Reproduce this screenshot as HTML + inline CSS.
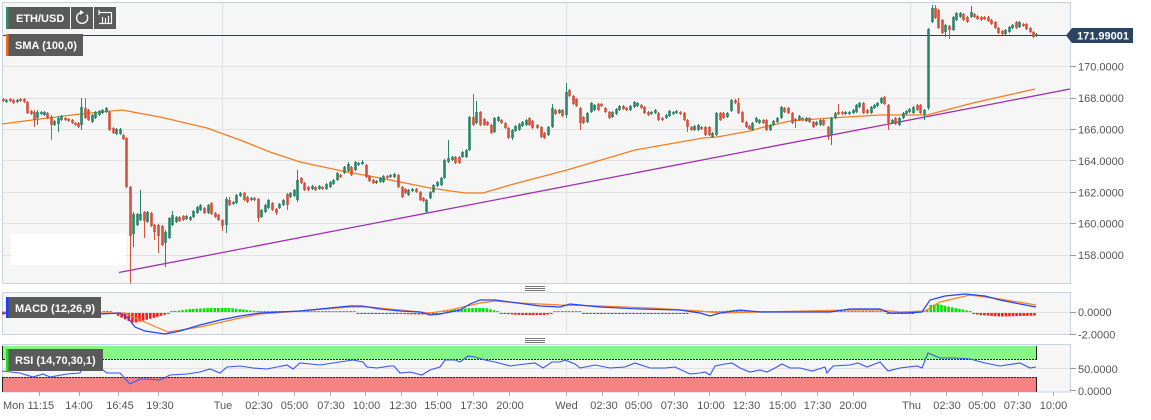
<!DOCTYPE html>
<html><head><meta charset="utf-8">
<style>
html,body{margin:0;padding:0;background:#fff;width:1151px;height:420px;overflow:hidden;}
svg{display:block;font-family:"Liberation Sans",Arial,sans-serif;}
</style></head>
<body>
<svg width="1151" height="420" viewBox="0 0 1151 420" xmlns="http://www.w3.org/2000/svg">
<rect x="0" y="0" width="1151" height="420" fill="#fff"/>
<!-- panels -->
<rect x="2.5" y="2.5" width="1068" height="281" fill="#f6f6f6" stroke="#c9d1e3"/>
<rect x="2.5" y="292.5" width="1068" height="42" fill="#f6f6f6" stroke="#c9d1e3"/>
<rect x="2.5" y="344.5" width="1068" height="47.5" fill="#f6f6f6" stroke="#c9d1e3"/>
<!-- grid main -->
<g stroke="#e2e2e2" stroke-width="1">
<line x1="3" y1="35.5" x2="1070" y2="35.5"/>
<line x1="3" y1="66.5" x2="1070" y2="66.5"/>
<line x1="3" y1="98.5" x2="1070" y2="98.5"/>
<line x1="3" y1="129.5" x2="1070" y2="129.5"/>
<line x1="3" y1="160.5" x2="1070" y2="160.5"/>
<line x1="3" y1="192.5" x2="1070" y2="192.5"/>
<line x1="3" y1="223.5" x2="1070" y2="223.5"/>
<line x1="3" y1="255.5" x2="1070" y2="255.5"/>
<line x1="222.5" y1="3" x2="222.5" y2="283"/>
<line x1="566.5" y1="3" x2="566.5" y2="283"/>
<line x1="910.5" y1="3" x2="910.5" y2="283"/>
<line x1="3" y1="312.5" x2="1070" y2="312.5"/>
<line x1="222.5" y1="293" x2="222.5" y2="334"/>
<line x1="566.5" y1="293" x2="566.5" y2="334"/>
<line x1="910.5" y1="293" x2="910.5" y2="334"/>
<line x1="3" y1="368.5" x2="1070" y2="368.5"/>
<line x1="222.5" y1="345" x2="222.5" y2="392"/>
<line x1="566.5" y1="345" x2="566.5" y2="392"/>
<line x1="910.5" y1="345" x2="910.5" y2="392"/>
</g>
<!-- price line -->
<line x1="3" y1="35.5" x2="1070" y2="35.5" stroke="#2c3e55" stroke-width="1"/>
<!-- SMA -->
<polyline fill="none" stroke="#f57c20" stroke-width="1.3" points="2,124 40,119 80,114 122,110 160,117 207,128 240,140 270,152 300,162 347,172 380,178 430,188 465,193 483,193 510,185 567,170 635,150 703,138 717,137 750,131 760,128 790,121 830,118 880,115 910,115 927,115 973,103 1035,89"/>
<!-- trendline -->
<line x1="119" y1="272.5" x2="1070" y2="89" stroke="#a030b0" stroke-width="1.3"/>
<!-- white box -->
<rect x="11" y="234" width="115" height="31" fill="#fff"/>
<g id="candles"></g>
<!-- price label -->
<polygon points="1066,35.5 1072,28 1133,28 1133,43 1072,43" fill="#2b4463"/>
<text x="1077" y="39.5" font-size="11" font-weight="bold" fill="#fff">171.99001</text>
<!-- right axis ticks -->
<g stroke="#999" stroke-width="1">
<line x1="1070" y1="66.5" x2="1076" y2="66.5"/>
<line x1="1070" y1="98.5" x2="1076" y2="98.5"/>
<line x1="1070" y1="129.5" x2="1076" y2="129.5"/>
<line x1="1070" y1="160.5" x2="1076" y2="160.5"/>
<line x1="1070" y1="192.5" x2="1076" y2="192.5"/>
<line x1="1070" y1="223.5" x2="1076" y2="223.5"/>
<line x1="1070" y1="255.5" x2="1076" y2="255.5"/>
<line x1="1070" y1="312.5" x2="1076" y2="312.5"/>
<line x1="1070" y1="334.5" x2="1076" y2="334.5"/>
<line x1="1070" y1="368.5" x2="1076" y2="368.5"/>
<line x1="1070" y1="390.5" x2="1076" y2="390.5"/>
</g>
<g font-size="11" fill="#555">
<text x="1078" y="70.7">170.0000</text>
<text x="1078" y="102.1">168.0000</text>
<text x="1078" y="133.5">166.0000</text>
<text x="1078" y="164.9">164.0000</text>
<text x="1078" y="196.3">162.0000</text>
<text x="1078" y="227.7">160.0000</text>
<text x="1078" y="259.1">158.0000</text>
<text x="1078" y="316">0.0000</text>
<text x="1078" y="338.5">-2.0000</text>
<text x="1078" y="373">50.0000</text>
<text x="1078" y="395">0.0000</text>
</g>
<!-- MACD -->
<g id="hist"></g>
<polyline fill="none" stroke="#ff8020" stroke-width="1.2" points="2,312 100,313 125,313 140,320 168,332 200,327 240,318 260,314 300,311 350,307 370,307 400,310 430,313 450,310 480,303 495,301 520,303 560,305 600,306 650,308 700,311 720,313 760,312 850,310 880,310 900,312 925,311 940,302 970,295 1000,299 1036,305"/>
<polyline fill="none" stroke="#2244ff" stroke-width="1.2" points="2,313 30,314 60,315 100,314 120,313 128,318 135,327 145,331 165,334 180,331 200,325 220,320 240,316 260,313 300,311 330,308 350,306 362,306 380,309 400,311 420,312 430,315 440,314 460,310 470,304 480,300 495,300 510,302 540,306 560,307 570,304 600,307 640,309 680,310 700,313 710,316 720,313 740,310 760,312 800,312 830,312 850,309 880,309 890,313 905,313 922,312 930,300 945,296 965,294 985,296 1000,300 1020,304 1036,307"/>
<!-- RSI bands -->
<rect x="3" y="346" width="1033" height="13" fill="#7ef77e" fill-opacity="0.95"/>
<rect x="3" y="377" width="1033" height="15" fill="#f77b7b" fill-opacity="0.95"/>
<line x1="3" y1="359.5" x2="1036" y2="359.5" stroke="#222" stroke-dasharray="2,1"/>
<line x1="3" y1="377.5" x2="1036" y2="377.5" stroke="#222" stroke-dasharray="2,1"/>
<g stroke="#222">
<line x1="1036.5" y1="346" x2="1036.5" y2="360"/>
<line x1="1036.5" y1="377" x2="1036.5" y2="392"/>
<line x1="2.5" y1="346" x2="2.5" y2="360"/>
<line x1="2.5" y1="377" x2="2.5" y2="392"/>
</g>
<polyline fill="none" stroke="#3355ff" stroke-width="1.1" points="2,371 20,373 33,377 43,374 50,377 67,374 80,373 83,366 90,368 100,368 107,373 120,373 130,384 140,379 147,379 160,380 170,375 187,374 200,372 210,369 220,373 227,367 240,366 253,368 267,369 277,367 287,365 293,369 300,363 320,365 333,363 353,360 363,362 367,367 377,368 390,366 394,366 400,373 410,372 422,375 430,370 440,367 445,360 455,360 460,362 468,356 475,357 485,360 495,362 510,366 525,364 535,363 543,368 552,362 560,362 565,360 575,364 580,368 595,365 610,368 625,367 635,363 650,368 665,368 675,367 690,374 700,373 705,372 710,375 715,366 725,364 732,363 740,368 750,372 760,370 767,372 775,368 782,364 790,368 800,368 812,371 825,367 827,373 833,366 850,365 858,363 867,367 880,362 888,371 900,368 917,366 922,368 928,353 940,358 955,358 970,359 985,363 1000,366 1020,363 1030,368 1036,367"/>
<!-- panel handles -->
<g stroke="#777" stroke-width="1">
<line x1="525" y1="286.5" x2="545" y2="286.5"/>
<line x1="525" y1="288.5" x2="545" y2="288.5"/>
<line x1="525" y1="290.5" x2="545" y2="290.5"/>
<line x1="525" y1="338.5" x2="545" y2="338.5"/>
<line x1="525" y1="340.5" x2="545" y2="340.5"/>
<line x1="525" y1="342.5" x2="545" y2="342.5"/>
</g>
<!-- legends -->
<rect x="6" y="7" width="64" height="22" fill="#5a5a5a"/>
<rect x="6" y="7" width="2.5" height="22" fill="#2e8b74"/>
<text x="16" y="22" font-size="11" font-weight="bold" fill="#fff">ETH/USD</text>
<rect x="71" y="7" width="22" height="22" fill="#5a5a5a"/>
<path d="M86.5,14.5 A5.5,5.5 0 1 1 81,12.5" fill="none" stroke="#fff" stroke-width="1.4"/>
<polygon points="80,10 84,12.5 80,15" fill="#fff"/>
<rect x="94" y="7" width="22" height="22" fill="#5a5a5a"/>
<g stroke="#fff" stroke-width="1.2" fill="none">
<line x1="99" y1="12.5" x2="111" y2="12.5"/>
<line x1="99" y1="10" x2="99" y2="15"/>
<line x1="99" y1="23.5" x2="112" y2="23.5"/>
<line x1="102.5" y1="17" x2="102.5" y2="23"/>
<line x1="105.5" y1="18" x2="105.5" y2="23"/>
<line x1="108.5" y1="16" x2="108.5" y2="23"/>
<line x1="111.5" y1="12" x2="111.5" y2="23"/>
</g>
<rect x="6" y="34" width="77" height="22" fill="#5a5a5a"/>
<rect x="6" y="34" width="2.5" height="22" fill="#f06a1c"/>
<text x="15" y="49" font-size="11" font-weight="bold" fill="#fff">SMA (100,0)</text>
<rect x="6" y="297" width="95" height="21" fill="#5a5a5a"/>
<rect x="6" y="297" width="2.5" height="21" fill="#1a3cff"/>
<text x="15" y="312" font-size="11" font-weight="bold" fill="#fff">MACD (12,26,9)</text>
<rect x="6" y="349" width="97" height="22" fill="#5a5a5a"/>
<rect x="6" y="349" width="2.5" height="22" fill="#22dd22"/>
<text x="15" y="364" font-size="11" font-weight="bold" fill="#fff">RSI (14,70,30,1)</text>
<!-- bottom ticks -->
<g id="bticks" stroke="#aaa" stroke-width="1"></g>
<g font-size="11" fill="#555" text-anchor="middle">
<text x="3" y="409" text-anchor="start">Mon 11:15</text>
<text x="79" y="409">14:00</text>
<text x="120" y="409">16:45</text>
<text x="160" y="409">19:30</text>
<text x="223" y="409">Tue</text>
<text x="259" y="409">02:30</text>
<text x="294.5" y="409">05:00</text>
<text x="331" y="409">07:30</text>
<text x="366.5" y="409">10:00</text>
<text x="403" y="409">12:30</text>
<text x="438" y="409">15:00</text>
<text x="474" y="409">17:30</text>
<text x="510" y="409">20:00</text>
<text x="566.5" y="409">Wed</text>
<text x="604" y="409">02:30</text>
<text x="638.5" y="409">05:00</text>
<text x="674.5" y="409">07:30</text>
<text x="711" y="409">10:00</text>
<text x="746.5" y="409">12:30</text>
<text x="782.5" y="409">15:00</text>
<text x="817.5" y="409">17:30</text>
<text x="853" y="409">20:00</text>
<text x="911.5" y="409">Thu</text>
<text x="947" y="409">02:30</text>
<text x="982" y="409">05:00</text>
<text x="1017.5" y="409">07:30</text>
<text x="1053.5" y="409">10:00</text>
</g>
</svg>
<script>
(function(){
var C=[
[3,99,101,'r'],[6,100,102,'g'],[10,99,101,'r'],[13,100,103,'r'],[17,100,102,'g'],[20,99,101,'r'],[24,99,102,'r'],[27,102,113,'r'],[31,111,114,'r'],[34,112,120,'r',110,127],[37,112,118,'g',110,125],[41,112,114,'g'],[44,112,115,'g'],[47,113,118,'r'],[51,117,125,'r',115,140],[54,121,125,'g'],[58,118,124,'g',116,132],[61,116,120,'g'],[65,118,120,'r'],[68,119,121,'r'],[72,120,123,'r'],[75,123,125,'r'],[78,123,127,'r'],[81,107,125,'g',98,130],[85,108,118,'r',98,119],[88,110,120,'r'],[92,115,122,'g'],[95,112,118,'g'],[99,111,115,'g'],[102,110,113,'g'],[106,108,112,'g'],[109,112,130,'r'],[113,128,133,'r'],[116,129,134,'g'],[120,129,134,'g'],[123,135,139,'r'],[126,138,187,'r'],[130,187,236,'r',186,283],[133,214,234,'g',212,247],[137,214,225,'g'],[140,214,220,'g',190,221],[144,212,221,'r',211,238],[147,212,222,'g'],[151,213,226,'r'],[154,225,232,'r',224,240],[158,225,236,'r',224,253],[162,226,245,'r'],[165,232,243,'g',230,267],[169,218,238,'g'],[172,215,225,'g',211,226],[176,217,222,'g'],[179,217,221,'r'],[183,216,220,'r'],[186,216,219,'g'],[190,217,220,'g'],[193,211,217,'g'],[197,207,213,'g'],[200,205,210,'g'],[204,208,213,'r'],[208,205,213,'g'],[211,203,214,'r'],[215,213,217,'r'],[218,215,220,'r'],[222,220,226,'r',219,231],[226,199,225,'g',197,233],[229,200,205,'r',197,206],[233,202,204,'g'],[236,195,203,'g'],[240,193,196,'g'],[244,193,200,'r'],[247,197,202,'r'],[251,198,200,'g'],[254,198,200,'r'],[258,199,218,'r',198,222],[261,210,217,'g'],[265,205,212,'g'],[268,200,208,'g'],[272,203,210,'r'],[276,209,213,'r',208,215],[279,204,208,'g'],[283,200,205,'g'],[287,194,205,'r',193,210],[290,193,197,'g'],[294,190,196,'g'],[297,180,200,'g',170,202],[301,178,183,'r'],[304,183,190,'r'],[308,187,190,'r'],[312,186,189,'g'],[315,187,190,'r'],[319,186,189,'g'],[322,187,189,'r'],[326,184,189,'g'],[330,182,187,'g'],[333,180,184,'g'],[337,173,180,'g'],[340,175,177,'r'],[344,167,173,'g'],[348,164,171,'g',162,172],[351,167,175,'r'],[355,162,170,'g'],[358,163,165,'g'],[362,162,164,'g',160,165],[366,165,177,'r'],[369,176,181,'r'],[373,180,183,'r'],[376,181,183,'g'],[380,178,182,'g'],
[383,176,182,'g'],[387,176,178,'r'],[390,175,177,'g'],[394,174,177,'g'],[398,175,187,'r'],[402,187,197,'r'],[405,189,193,'r'],[408,190,195,'g'],[412,189,191,'g'],[416,189,192,'r'],[420,192,200,'r'],[423,198,201,'r'],[426,200,212,'g',199,213],[430,192,198,'g'],[433,185,192,'g'],[437,182,186,'g'],[441,178,185,'g'],[444,160,178,'g'],[448,158,162,'g',140,163],[452,157,160,'g'],[455,157,163,'r'],[459,157,163,'r'],[462,152,157,'g'],[466,150,157,'g'],[469,117,150,'g'],[473,117,125,'r',94,126],[476,112,123,'g',101,124],[480,112,125,'r'],[484,119,125,'r'],[487,122,125,'r'],[491,125,133,'r'],[494,118,132,'g'],[498,117,121,'g'],[501,120,123,'r'],[505,123,128,'r'],[508,128,138,'r'],[512,130,138,'g',129,140],[515,126,131,'g'],[519,124,130,'g'],[522,122,126,'g'],[526,120,125,'g'],[529,118,125,'r'],[532,121,128,'r'],[537,125,128,'r'],[541,127,137,'r'],[544,133,138,'r'],[548,127,135,'g'],[552,108,127,'g',104,128],[555,110,114,'r'],[559,110,113,'g'],[562,110,116,'r'],[566,92,115,'g',83,118],[569,90,96,'r'],[573,96,104,'r'],[576,99,106,'r'],[580,108,123,'r',107,130],[583,117,123,'r'],
[587,113,122,'g'],[591,103,112,'g'],[594,105,110,'g'],[598,104,110,'r'],[601,104,106,'r'],[605,108,112,'r'],[609,112,118,'r'],[612,112,117,'g'],[616,109,114,'g'],[619,106,110,'g'],[623,106,109,'r'],[626,108,110,'r'],[630,106,110,'g'],[634,102,107,'g'],[637,103,106,'g'],[641,105,108,'r'],[644,107,113,'r'],[648,112,115,'r'],[651,112,114,'g'],[655,110,113,'g'],[658,113,120,'r'],[662,118,120,'r'],[666,115,118,'g'],[669,111,116,'g'],[673,112,114,'g'],[676,111,113,'g'],[680,112,114,'r'],[684,113,120,'r'],[687,120,127,'r',119,132],[691,127,130,'r'],[694,126,130,'g'],[698,125,130,'g'],[701,127,129,'r'],[705,127,135,'r'],[709,127,135,'r'],[712,133,137,'g'],[716,113,135,'g'],[720,113,120,'r'],[723,113,118,'r'],[727,113,117,'g'],[731,100,111,'g'],[735,100,103,'r'],[738,103,113,'r',98,114],[742,112,122,'r'],[746,122,127,'r'],[749,126,129,'r'],[752,123,130,'g'],[756,118,122,'g'],[759,120,123,'g'],[763,120,123,'r'],[766,120,130,'r'],[770,125,130,'g'],[773,121,125,'g'],[777,118,122,'g'],[781,107,118,'g'],[784,108,112,'r'],[788,108,113,'r'],[792,113,123,'r'],[795,119,121,'r',118,128],[799,116,120,'g'],[802,118,120,'r'],[806,118,121,'g'],[809,118,122,'r'],[813,122,127,'r'],[816,122,125,'g'],[820,120,125,'g'],[823,120,125,'r'],[828,127,137,'r',126,140],[831,118,135,'g',117,145],[835,113,118,'g'],[838,112,114,'r',104,115],[842,112,114,'r'],[845,112,114,'g'],[849,112,114,'g'],[853,110,113,'g'],[856,105,112,'g'],[859,103,107,'g'],[863,103,113,'r'],[867,110,113,'r'],[871,107,113,'g'],[874,105,108,'g'],[877,103,106,'g'],[881,98,103,'g'],[884,97,104,'r',96,105],[888,105,123,'r',104,130],[892,120,123,'g'],[895,118,124,'r'],[899,118,125,'g'],[903,113,118,'g'],[906,111,114,'g'],[909,109,112,'g'],[913,107,113,'g'],[917,105,110,'r'],[920,105,113,'r'],[924,110,115,'g',109,120],[928,29,108,'g',28,110],
[932,8,22,'g',5,23],[935,8,18,'r',5,19],[938,10,28,'r'],[942,20,33,'r'],[945,25,32,'g',24,37],[949,26,30,'r',25,39],[953,17,30,'g'],[956,13,20,'g'],[960,13,17,'g'],[963,14,20,'r'],[967,17,22,'r'],[971,12,17,'g',6,18],[974,14,17,'r'],[977,16,19,'r'],[981,17,20,'r'],[984,17,19,'r'],[988,17,21,'r'],[991,20,24,'r'],[995,22,28,'r'],[998,28,33,'r'],[1002,31,34,'r'],[1005,30,34,'g'],[1009,27,32,'g'],[1012,25,28,'g'],[1016,22,28,'r'],[1019,22,27,'g'],[1023,24,26,'r'],[1026,24,29,'r'],[1030,28,32,'r'],[1033,32,37,'r'],[1036,34,36,'g']
];
var s='';
for(var i=0;i<C.length;i++){
 var c=C[i],x=c[0],t=c[1],b=c[2],col=c[3]=='g'?'#2b8569':'#d5513e';
 var wt=c.length>4?c[4]:t-1,wb=c.length>5?c[5]:b+1;
 s+='<line x1="'+(x+0.5)+'" y1="'+wt+'" x2="'+(x+0.5)+'" y2="'+wb+'" stroke="'+col+'" stroke-width="1"/>';
 s+='<rect x="'+(x-0.8)+'" y="'+t+'" width="2.6" height="'+Math.max(1,b-t)+'" fill="'+col+'"/>';
}
document.getElementById('candles').innerHTML=s;

var H=[[2,-1.5],[30,-1],[60,-0.5],[100,0],[112,0],[118,-3],[126,-7],[133,-10],[145,-7],[160,-3],[170,0],[175,1],[190,3],[210,4],[230,4],[255,1],[262,0],[300,0.5],[320,1],[345,1],[355,0],[365,-1],[400,-1],[420,-1.5],[440,0],[450,2],[470,4],[485,4],[500,0],[505,-1],[520,-2],[545,-2],[552,0],[562,0.5],[575,0.5],[580,0],[590,-1],[640,-1],[650,0],[655,-1],[680,-1],[690,0],[722,1],[735,2],[748,1],[760,0],[778,1],[800,1],[845,1],[880,1],[890,-1],[905,-1],[915,0],[925,0],[930,7],[937,8],[950,5],[965,2],[973,0],[978,-2],[1000,-3.5],[1020,-3],[1036,-2.5]];
function hv(x){for(var i=0;i<H.length-1;i++){if(x<=H[i+1][0]){var a=H[i],b=H[i+1];return a[1]+(b[1]-a[1])*(x-a[0])/(b[0]-a[0]);}}return H[H.length-1][1];}
var h='';
for(var x=3;x<=1036;x+=3.58){
 var v=hv(x),col=v>=0?'#00e600':'#ff1a1a',hh=Math.max(1,Math.abs(v)),y=v>=0?312-hh:313;
 h+='<rect x="'+(x-0.8).toFixed(1)+'" y="'+y.toFixed(1)+'" width="2.6" height="'+hh.toFixed(1)+'" fill="'+col+'"/>';
}
document.getElementById('hist').innerHTML=h;

var T=[39.3,78.7,118.1,157.5,222,257.8,293.7,329.5,365.3,401.2,437,472.8,508.7,566,601.8,637.7,673.5,709.3,745.2,781,816.8,852.7,910,945.8,981.7,1017.5,1053.3];
var t='';
for(var k=0;k<T.length;k++){var xx=Math.round(T[k])+0.5;t+='<line x1="'+xx+'" y1="392" x2="'+xx+'" y2="396"/>';}
document.getElementById('bticks').innerHTML=t;
})();
</script>
</body></html>
